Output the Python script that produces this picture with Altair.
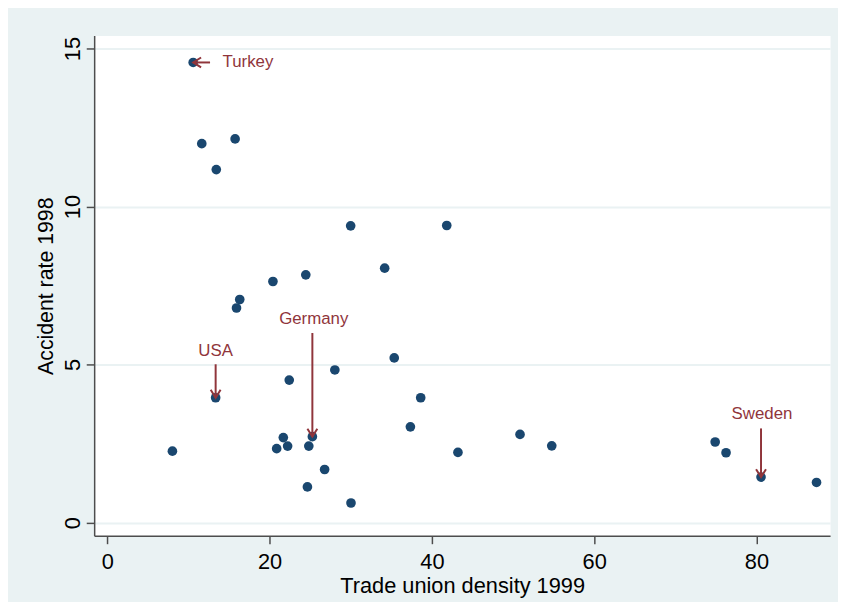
import altair as alt
import pandas as pd

# ---- data ----
union_density = [10.58, 11.64, 15.75, 13.43, 29.99, 41.83, 20.41, 24.46, 34.18, 16.32,
                 15.92, 35.36, 28.04, 22.42, 13.35, 38.62, 37.35, 8.02, 21.69, 25.27,
                 20.87, 22.22, 24.83, 26.78, 24.66, 30.03, 43.21, 50.86, 54.77, 74.91,
                 76.25, 80.56, 87.40]
accident_rate = [14.56, 11.99, 12.14, 11.17, 9.39, 9.40, 7.63, 7.84, 8.05, 7.06,
                 6.79, 5.21, 4.83, 4.51, 3.95, 3.95, 3.03, 2.26, 2.69, 2.72,
                 2.34, 2.42, 2.42, 1.68, 1.13, 0.62, 2.22, 2.79, 2.43, 2.55,
                 2.21, 1.44, 1.27]

# annotations (data units)
ann_label = ["Turkey", "USA", "Germany", "Sweden"]
ann_text_x = [14.2, 13.35, 25.44, 80.68]
ann_text_y = [14.56, 5.43, 6.45, 3.44]
ann_from_x = [12.66, 13.35, 25.27, 80.56]
ann_from_y = [14.56, 5.01, 6.00, 2.98]
ann_to_x = [10.58, 13.35, 25.27, 80.56]
ann_to_y = [14.56, 3.95, 2.72, 1.44]
ann_dir = ["left", "down", "down", "down"]

x_ticks = [0, 20, 40, 60, 80]
y_ticks = [0, 5, 10, 15]

title_text = "Figure 2: Negative correlation between accidents at work and unionisation"
x_title = "Trade union density 1999"
y_title = "Accident rate  1998"

pts = pd.DataFrame({"x": union_density, "y": accident_rate})
ann = pd.DataFrame({"label": ann_label, "tx": ann_text_x, "ty": ann_text_y,
                    "x1": ann_from_x, "y1": ann_from_y, "x2": ann_to_x, "y2": ann_to_y,
                    "dir": ann_dir})

FONT = "Liberation Sans"
DOT = "#1A476F"
RED = "#90353B"
BG = "#EAF2F3"

xs = alt.Scale(domain=[-1.62, 89.07], nice=False, zero=False)
ys = alt.Scale(domain=[-0.417, 15.41], nice=False, zero=False)

x_axis = alt.Axis(values=x_ticks, title=x_title, grid=False, labelFontSize=22,
                  labelPadding=8, titleFontSize=22, titleY=57.5, titleBaseline="alphabetic",
                  format="d")
y_axis = alt.Axis(values=y_ticks, title=y_title, grid=True, gridColor=BG, gridWidth=2,
                  labelFontSize=22, labelAngle=270, labelAlign="center",
                  labelBaseline="bottom", labelPadding=2, titleFontSize=21.5,
                  titleX=-48, titleBaseline="middle", format="d")


def X(field):
    return alt.X(f"{field}:Q", scale=xs, axis=x_axis)


def Y(field):
    return alt.Y(f"{field}:Q", scale=ys, axis=y_axis)


points = alt.Chart(pts).mark_circle(size=95, color=DOT, opacity=1).encode(
    x=X("x"), y=Y("y"))

arrows = alt.Chart(ann).mark_rule(color=RED, strokeWidth=2).encode(
    x=X("x1"), y=Y("y1"), x2="x2:Q", y2="y2:Q")

path_left = "M1.6,-1L0,0L1.6,1"
path_down = "M-1,-1.6L0,0L1,-1.6"
heads = alt.Chart(ann).mark_point(filled=False, color=RED, strokeWidth=2, size=100,
                                  opacity=1).encode(
    x=X("x2"), y=Y("y2"),
    shape=alt.Shape("dir:N", scale=alt.Scale(domain=["left", "down"],
                                             range=[path_left, path_down]),
                    legend=None))

text_left = alt.Chart(ann).transform_filter(alt.datum.dir == "left").mark_text(
    align="left", baseline="middle", fontSize=17, color=RED, font=FONT).encode(
    x=X("tx"), y=Y("ty"), text="label:N")

text_center = alt.Chart(ann).transform_filter(alt.datum.dir == "down").mark_text(
    align="center", baseline="middle", fontSize=17, color=RED, font=FONT).encode(
    x=X("tx"), y=Y("ty"), text="label:N")

chart = alt.layer(points, arrows, heads, text_left, text_center).properties(
    width=743, height=505,
    autosize=alt.AutoSizeParams(type="none"),
    padding={"left": 87, "top": 25, "right": 8, "bottom": 64},
    title=alt.TitleParams(title_text, anchor="start", dx=-87, offset=21,
                          baseline="alphabetic", fontSize=18.5, color="#2A64AD",
                          font=FONT, fontWeight="normal"),
).configure(background=BG, font=FONT).configure_view(
    fill="white", stroke="transparent"
).configure_axis(
    domainColor="#4D4D4D", domainWidth=1.5, tickColor="#4D4D4D", tickWidth=1.5,
    tickSize=8, labelColor="black", titleColor="black", labelFont=FONT,
    titleFont=FONT, titleFontWeight="normal"
)

chart.save("out.html", embed_options={"renderer": "svg", "actions": False})
